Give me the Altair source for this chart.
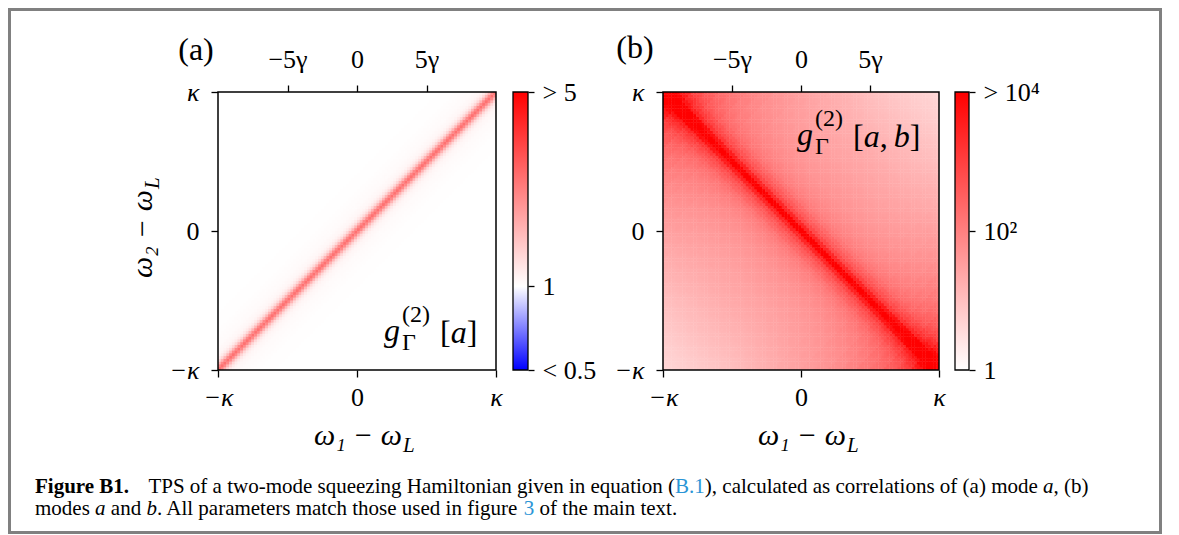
import math
import altair as alt
import numpy as np
import pandas as pd

alt.data_transformers.disable_max_rows()

FONT = "Liberation Serif"

# ---------------- data ----------------
AXIS_TICKS = [-1.0, 0.0, 1.0]            # in units of kappa
AXIS_LABELS = ["−κ", "0", "κ"]
TOP_TICKS = [-0.5, 0.0, 0.5]             # 5 gamma = kappa / 2
TOP_LABELS = ["−5γ", "0", "5γ"]

CBAR_A_TICKS = [0.5, 1.0, 5.0]
CBAR_A_LABELS = ["< 0.5", "1", "> 5"]
CBAR_A_DOMAIN = [0.5, 1.0, 5.0]
CBAR_A_COLORS = ["#0000ff", "#ffffff", "#ff0000"]

CBAR_B_TICKS = [1.0, 100.0, 10000.0]
CBAR_B_LABELS = ["1", "10²", "> 10⁴"]
CBAR_B_DOMAIN = [1.0, 10000.0]
CBAR_B_COLORS = ["#ffffff", "#ff0000"]

# panel (a): g2[a] versus cell distance |i-j| from the diagonal (100 x 100 cells)
N_A = 100
PROFILE_A = [2.45, 2.1, 1.6, 1.28, 1.14, 1.08, 1.055, 1.042, 1.034, 1.028, 1.023,
             1.019, 1.016, 1.013, 1.011, 1.009, 1.008, 1.007, 1.006, 1.005,
             1.004, 1.003, 1.002]

# panel (b): log10 g2[a,b] across the anti-diagonal (steps of 0.04 kappa in |w1+w2|)
N_B = 100
PERP_B_LOG = [4.4, 3.4, 2.85, 2.55, 2.35, 2.15, 2.02, 1.93, 1.86, 1.8,
              1.75, 1.71, 1.67, 1.64, 1.61, 1.58, 1.55, 1.53, 1.5, 1.48,
              1.45, 1.43, 1.41, 1.38, 1.36, 1.33, 1.31, 1.28, 1.26, 1.23,
              1.2, 1.18, 1.15, 1.12, 1.09, 1.06, 1.03, 1.0, 0.97, 0.94,
              0.91, 0.88, 0.85, 0.82, 0.79, 0.76, 0.73, 0.7, 0.67, 0.64]
# extra log10 along the anti-diagonal (steps of 0.1 kappa in |w1-w2|)
ALONG_B_LOG = [0, 0, 0, 0, 0.01, 0.02, 0.04, 0.06, 0.09, 0.12,
               0.16, 0.2, 0.26, 0.33, 0.42, 0.52, 0.65, 0.82, 1.05, 1.4]

# ---------------- layout (pixels) ----------------
W, H = 1158, 527
PY0, PY1 = 84, 362
A_X = [210, 488]
B_X = [655, 931]
CB_A = (505, 520)
CB_B = (947, 961)


def grid(n):
    e = np.linspace(-1.0, 1.0, n + 1)
    step = 2.0 / n
    ii, jj = np.meshgrid(np.arange(n), np.arange(n), indexing="ij")
    ii = ii.ravel()
    jj = jj.ravel()
    x0 = e[ii]
    x1 = np.minimum(e[ii + 1] + 0.15 * step, 1.0)
    y0 = e[jj]
    y1 = np.minimum(e[jj + 1] + 0.15 * step, 1.0)
    return ii, jj, x0, x1, y0, y1


ii, jj, x0, x1, y0, y1 = grid(N_A)
prof_a = np.array(PROFILE_A)
va = prof_a[np.minimum(np.abs(ii - jj), len(PROFILE_A) - 1)]
df_a = pd.DataFrame({"x0": x0.round(4), "x1": x1.round(4), "y0": y0.round(4),
                     "y1": y1.round(4), "v": va.round(4)})

ii, jj, x0, x1, y0, y1 = grid(N_B)
perp = np.array(PERP_B_LOG)
along = np.array(ALONG_B_LOG)
p = np.abs(ii + jj - (N_B - 1))
q = np.abs(ii - jj)
logv = np.minimum(perp[np.minimum(p // 2, len(perp) - 1)] + along[np.minimum(q // 5, len(along) - 1)], perp[0])
df_b = pd.DataFrame({"x0": x0.round(4), "x1": x1.round(4), "y0": y0.round(4),
                     "y1": y1.round(4), "v": np.round(10 ** logv, 3)})


def label_expr(ticks, labels):
    parts = [f"abs(datum.value - ({t})) <= {1e-6 * max(1.0, abs(t))} ? '{l}'"
             for t, l in zip(ticks, labels)]
    return " : ".join(parts) + " : ''"


AXIS_STYLE = dict(domain=False, grid=False, ticks=True, tickColor="black", tickWidth=1.3,
                  tickSize=7, labelFont=FONT, labelFontSize=26, labelColor="black",
                  labelPadding=7, labelFlush=False, labelOverlap=False, labelBound=False,
                  title=None)
ITALIC_NONZERO = {"condition": {"test": "datum.value == 0", "value": "normal"}, "value": "italic"}


def pos_scale(rng):
    return alt.Scale(domain=[-1.0, 1.0], range=rng, nice=False, zero=False)


def heat(df, xr, cscale):
    return alt.Chart(df).mark_rect().encode(
        x=alt.X("x0:Q", scale=pos_scale(xr),
                axis=alt.Axis(orient="bottom", offset=PY1 - H, values=AXIS_TICKS,
                              labelExpr=label_expr(AXIS_TICKS, AXIS_LABELS),
                              labelFontStyle=ITALIC_NONZERO, **AXIS_STYLE)),
        x2="x1:Q",
        y=alt.Y("y0:Q", scale=pos_scale([PY1, PY0]),
                axis=alt.Axis(orient="left", offset=-xr[0], values=AXIS_TICKS,
                              labelExpr=label_expr(AXIS_TICKS, AXIS_LABELS),
                              labelFontStyle=ITALIC_NONZERO,
                              **{**AXIS_STYLE, "labelPadding": 12})),
        y2="y1:Q",
        color=alt.Color("v:Q", scale=cscale, legend=None),
    )


FRAME_DF = pd.DataFrame({"x0": [-1.0], "x1": [1.0], "y0": [-1.0], "y1": [1.0]})


def frame(xr):
    return alt.Chart(FRAME_DF).mark_rect(fillOpacity=0, stroke="black", strokeWidth=1.5).encode(
        x=alt.X("x0:Q", scale=pos_scale(xr),
                axis=alt.Axis(orient="top", offset=-PY0, values=TOP_TICKS,
                              labelExpr=label_expr(TOP_TICKS, TOP_LABELS),
                              **{**AXIS_STYLE, "labelPadding": 13})),
        x2="x1:Q",
        y=alt.Y("y0:Q", scale=pos_scale([PY1, PY0]), axis=None),
        y2="y1:Q",
    )


def colorbar(domain, colors, ticks, labels, xpos):
    lo, hi = domain[0], domain[-1]
    stops = [{"offset": round((math.log(d) - math.log(lo)) / (math.log(hi) - math.log(lo)), 5),
              "color": c} for d, c in zip(domain, colors)]
    grad = {"gradient": "linear", "stops": stops, "x1": 0, "x2": 0, "y1": 1, "y2": 0}
    df = pd.DataFrame({"lo": [lo], "hi": [hi]})
    return alt.Chart(df).mark_rect(fill=grad, stroke="black", strokeWidth=1.3).encode(
        x=alt.value(xpos[0]), x2=alt.value(xpos[1]),
        y=alt.Y("lo:Q", scale=alt.Scale(type="log", domain=[lo, hi], range=[PY1, PY0], nice=False),
                axis=alt.Axis(orient="right", offset=xpos[1] - W, values=ticks,
                              labelExpr=label_expr(ticks, labels),
                              **{**AXIS_STYLE, "tickSize": 6, "labelPadding": 8})),
        y2="hi:Q",
    )


ONE = pd.DataFrame({"k": [0]})


def txt(s, x, y, size, style="normal", weight="normal", align="left", baseline="alphabetic",
        color="black", angle=0):
    kw = dict(text=s, font=FONT, fontSize=size, fontStyle=style, fontWeight=weight,
              align=align, baseline=baseline, color=color)
    if angle:
        kw["angle"] = angle
    return alt.Chart(ONE).mark_text(**kw).encode(x=alt.value(x), y=alt.value(y))


layers = [
    heat(df_a, A_X, alt.Scale(type="log", domain=CBAR_A_DOMAIN, range=CBAR_A_COLORS,
                              clamp=True, interpolate="rgb")),
    heat(df_b, B_X, alt.Scale(type="log", domain=CBAR_B_DOMAIN, range=CBAR_B_COLORS,
                              clamp=True, interpolate="rgb")),
    frame(A_X),
    frame(B_X),
    colorbar(CBAR_A_DOMAIN, CBAR_A_COLORS, CBAR_A_TICKS, CBAR_A_LABELS, CB_A),
    colorbar(CBAR_B_DOMAIN, CBAR_B_COLORS, CBAR_B_TICKS, CBAR_B_LABELS, CB_B),
]

# panel letters
layers += [txt("(a)", 188, 42, 32, align="center", baseline="middle"),
           txt("(b)", 627, 40, 32, align="center", baseline="middle")]

# x labels  w1 - wL
AX = 30
for cx in [(A_X[0] + A_X[1]) / 2, (B_X[0] + B_X[1]) / 2]:
    xe = cx + 45
    layers += [txt("ω₁ − ω", xe, 437, AX, style="italic", align="right"),
               txt("L", xe + 1, 444, 21, style="italic", align="left")]

# y label  w2 - wL (rotated)
ye = 227 - 45
layers += [txt("ω₂ − ω", 144, ye, AX, style="italic", align="right", angle=270),
           txt("L", 151, ye - 1, 21, style="italic", align="left", angle=270)]


# g2 annotations
def g2(xg, yb, mode_parts):
    out = [txt("g", xg, yb, 32, style="italic"),
           txt("(2)", xg + 18, yb - 19, 24),
           txt("Γ", xg + 18, yb + 9, 24)]
    x = xg + 56
    out.append(txt("[", x, yb + 2, 32))
    x += 10.7
    for s, it in mode_parts:
        out.append(txt(s, x, yb + 2, 32, style="italic" if it else "normal"))
        x += 16 if it else 14
    out.append(txt("]", x, yb + 2, 32))
    return out


layers += g2(376, 333, [("a", True)])
layers += g2(789, 137, [("a", True), (",", False), ("b", True)])

# caption with Times-compatible metrics for run placement
REG = {" ": 250, "(": 333, ")": 333, ",": 250, "-": 333, ".": 250, "1": 500, "3": 500,
       "A": 722, "B": 667, "H": 722, "P": 556, "S": 556, "T": 611,
       "a": 444, "b": 500, "c": 444, "d": 500, "e": 444, "f": 333, "g": 500, "h": 500,
       "i": 278, "j": 278, "k": 500, "l": 278, "m": 778, "n": 500, "o": 500, "p": 500,
       "q": 500, "r": 333, "s": 389, "t": 278, "u": 500, "v": 500, "w": 722, "x": 500,
       "y": 500, "z": 444}
BOLD = {"F": 611, "i": 278, "g": 500, "u": 556, "r": 444, "e": 444, " ": 250, "B": 667,
        "1": 500, ".": 250}
ITAL = {"a": 500, "b": 500}
CAP = 21
LINK = "#2b95d6"


def run_width(s, kind):
    table = {"bold": BOLD, "italic": ITAL}.get(kind, REG)
    return sum(table.get(ch, 500) for ch in s) * CAP / 1000.0


CAPTION = [
    [("Figure B1.", "bold"), ("  ", "gap"),
     ("TPS of a two-mode squeezing Hamiltonian given in equation (", "normal"),
     ("B.1", "link"), ("), calculated as correlations of (a) mode ", "normal"),
     ("a", "italic"), (", (b)", "normal")],
    [("modes ", "normal"), ("a", "italic"), (" and ", "normal"), ("b", "italic"),
     (". All parameters match those used in figure ", "normal"), ("3", "link"),
     (" of the main text.", "normal")],
]
for line, yb in zip(CAPTION, [485, 507]):
    x = 27
    for s, kind in line:
        if kind == "gap":
            x += 0.9 * CAP
            continue
        body = s.lstrip(" ")
        x += run_width(s[: len(s) - len(body)], "normal")
        layers.append(txt(body.rstrip(" "), x, yb, CAP,
                          style="italic" if kind == "italic" else "normal",
                          weight="bold" if kind == "bold" else "normal",
                          color=LINK if kind == "link" else "black"))
        x += run_width(body, kind)

# outer figure border
layers.append(alt.Chart(ONE).mark_rect(fillOpacity=0, stroke="#808080", strokeWidth=3).encode(
    x=alt.value(1.5), x2=alt.value(W - 5.5), y=alt.value(1.5), y2=alt.value(H - 2.5)))

chart = alt.layer(*layers).properties(
    width=W, height=H, padding=0, autosize=alt.AutoSizeParams(type="none")
).resolve_scale(x="independent", y="independent", color="independent"
).resolve_axis(x="independent", y="independent").configure_view(
    strokeWidth=0).configure_axis(labelFont=FONT)

chart.save("out.html", embed_options={"renderer": "svg", "actions": False})
